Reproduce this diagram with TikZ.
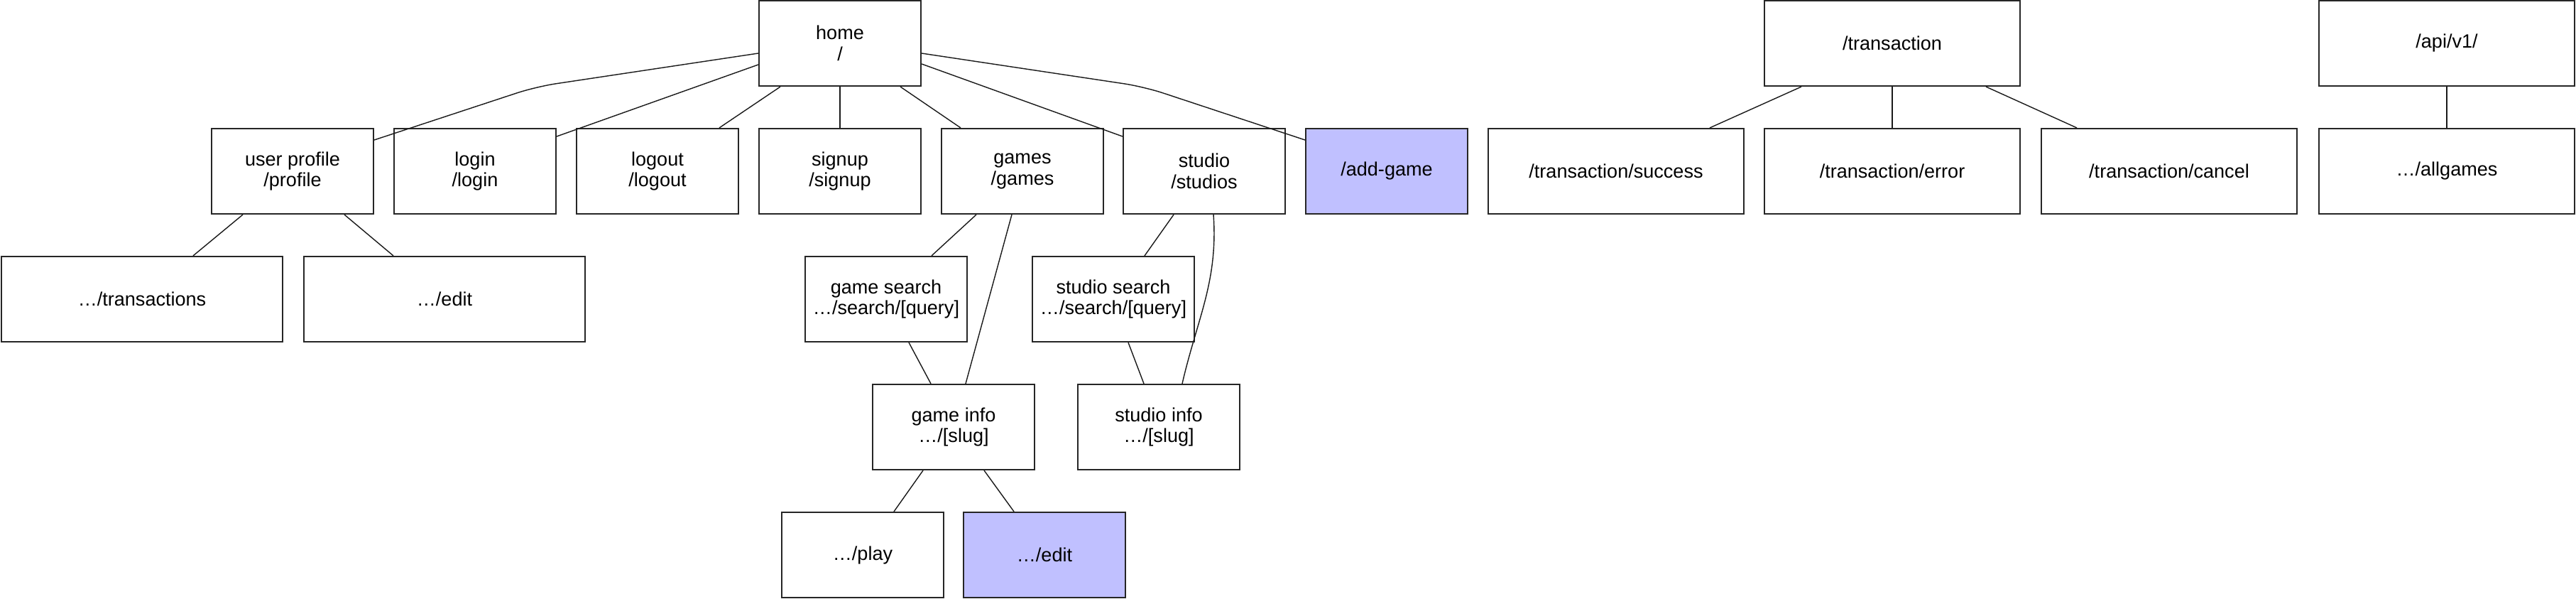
\documentclass[tikz,border=0pt]{standalone}
\usepackage{fontspec}
\setmainfont{Liberation Sans}

\begin{document}
\begin{tikzpicture}[
    page/.style={draw=black!85, line width=0.6pt, fill=white, minimum width=2.28cm,
        minimum height=1.2cm, inner sep=0pt, align=center,
        font=\fontsize{7.7}{8.5}\selectfont},
    widepage/.style={page, minimum width=3.6cm},
    newpage/.style={page, fill=newblue},
    link/.style={line width=0.4pt, black!90}
]
    \definecolor{newblue}{RGB}{192,192,255}

    \useasboundingbox (0,0) rectangle (36.28,-8.43);

    % Site pages
    \node[page] (home) at (11.83,-0.61) {home\\/};

    \node[page] (profile) at (4.12,-2.41) {user profile\\/profile};
    \node[page] (login)   at (6.69,-2.41) {login\\/login};
    \node[page] (logout)  at (9.26,-2.41) {logout\\/logout};
    \node[page] (signup)  at (11.83,-2.41) {signup\\/signup};
    \node[page] (games)   at (14.40,-2.41) {games\\/games};
    \node[page] (studio)  at (16.96,-2.41) {studio\\/studios};
    \node[newpage] (addgame) at (19.53,-2.41) {/add-game};

    \node[page, minimum width=3.96cm] (transactions) at (2.00,-4.21) {\dots/transactions};
    \node[page, minimum width=3.96cm] (profedit)     at (6.26,-4.21) {\dots/edit};
    \node[page] (gamesearch)   at (12.48,-4.21) {game search\\\dots/search/[query]};
    \node[page] (studiosearch) at (15.68,-4.21) {studio search\\\dots/search/[query]};

    \node[page] (gameinfo)   at (13.43,-6.01) {game info\\\dots/[slug]};
    \node[page] (studioinfo) at (16.32,-6.01) {studio info\\\dots/[slug]};

    \node[page] (play)        at (12.15,-7.81) {\dots/play};
    \node[newpage] (gameedit) at (14.71,-7.81) {\dots/edit};

    % Transaction pages
    \node[widepage] (transaction) at (26.65,-0.61) {/transaction};
    \node[widepage] (success) at (22.76,-2.41) {/transaction/success};
    \node[widepage] (error)   at (26.65,-2.41) {/transaction/error};
    \node[widepage] (cancel)  at (30.55,-2.41) {/transaction/cancel};

    % API
    \node[widepage] (api)      at (34.46,-0.61) {/api/v1/};
    \node[widepage] (allgames) at (34.46,-2.41) {\dots/allgames};

    % Links from home
    \draw[link, rounded corners=8pt] ([yshift=-0.14cm]home.west) -- (7.55,-1.22)
        -- ([yshift=0.44cm]profile.east);
    \draw[link] ([yshift=-0.30cm]home.west) -- ([yshift=0.49cm]login.east);
    \draw[link] ([xshift=-0.84cm]home.south) -- ([xshift=0.87cm]logout.north);
    \draw[link] (home.south) -- (signup.north);
    \draw[link] ([xshift=0.85cm]home.south) -- ([xshift=-0.87cm]games.north);
    \draw[link] ([yshift=-0.29cm]home.east) -- ([yshift=0.49cm]studio.west);
    \draw[link, rounded corners=8pt] ([yshift=-0.14cm]home.east) -- (16.11,-1.22)
        -- ([yshift=0.44cm]addgame.west);

    % Profile
    \draw[link] ([xshift=-0.70cm]profile.south) -- ([xshift=0.72cm]transactions.north);
    \draw[link] ([xshift=0.73cm]profile.south) -- ([xshift=-0.72cm]profedit.north);

    % Games
    \draw[link] ([xshift=-0.65cm]games.south) -- ([xshift=0.64cm]gamesearch.north);
    \draw[link] ([xshift=-0.15cm]games.south) -- ([xshift=0.17cm]gameinfo.north);
    \draw[link] ([xshift=0.32cm]gamesearch.south) -- ([xshift=-0.32cm]gameinfo.north);
    \draw[link] ([xshift=-0.43cm]gameinfo.south) -- ([xshift=0.44cm]play.north);
    \draw[link] ([xshift=0.43cm]gameinfo.south) -- ([xshift=-0.43cm]gameedit.north);

    % Studios
    \draw[link] ([xshift=-0.43cm]studio.south) -- ([xshift=0.44cm]studiosearch.north);
    \draw[link] ([xshift=0.13cm]studio.south) to[out=-86, in=77] ([xshift=0.33cm]studioinfo.north);
    \draw[link] ([xshift=0.21cm]studiosearch.south) -- ([xshift=-0.21cm]studioinfo.north);

    % Transactions
    \draw[link] ([xshift=-1.28cm]transaction.south) -- ([xshift=1.32cm]success.north);
    \draw[link] (transaction.south) -- (error.north);
    \draw[link] ([xshift=1.32cm]transaction.south) -- ([xshift=-1.30cm]cancel.north);

    \draw[link] (api.south) -- (allgames.north);

\end{tikzpicture}
\end{document}
